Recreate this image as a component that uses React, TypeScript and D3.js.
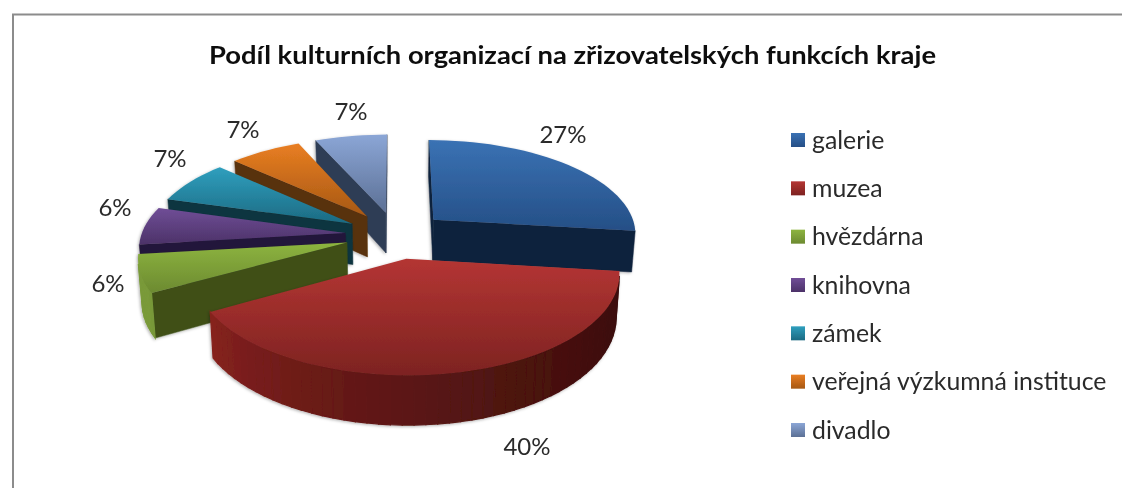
import React from "react";
import * as d3 from "d3";

const categories = ["galerie", "muzea", "hvězdárna", "knihovna", "zámek", "veřejná výzkumná instituce", "divadlo"];
const values = [26.9, 39.9, 6.3, 6.4, 7.3, 6.6, 6.6];
const pctLabels = ["27%", "40%", "6%", "6%", "7%", "7%", "7%"];
const titleText = "Podíl kulturních organizací na zřizovatelských funkcích kraje";

const topLight = ["#3a72b4", "#b43533", "#8db43f", "#704e97", "#2f9fbe", "#e97e22", "#8ba6d6"];
const topDark = ["#254f86", "#7d2321", "#6c8a31", "#4c3268", "#1c6a82", "#a65814", "#5c7095"];
const wallLeft = ["#12243f", "#8a2320", "#7a9a3a", "#2a1a42", "#123a46", "#5c310b", "#2a384f"];
const wallRight = ["#101f38", "#3a0e0c", "#3d4f1a", "#221436", "#103541", "#4d2a0a", "#354663"];
const radial = ["#11233d", "#7a1f1d", "#3f5019", "#24143a", "#10343f", "#59300b", "#2f3d55"];

const W = 1122, H = 488;
const cx = 396, cy = 235, R = 204, V = 94, P = 0.133, D = 41.6, EX = 0.25, SHRINK = 0.015;
const drawOrder = [6, 0, 5, 4, 3, 2, 1];
const labelX = [563, 527, 108, 115, 170, 243, 351];
const labelY = [133, 445, 282, 206, 157, 128, 110];

const project = (X: number, Y: number, z = 0): [number, number] => {
  const f = 1 / (1 - P * Y);
  return [cx + R * X * f * (1 - SHRINK * z), cy + V * Y * f + z * D * f];
};

const pie = d3.pie<number>().sort(null).value((d) => d)(values);
const line = d3.line<[number, number]>();

const area = (p: [number, number][]) => d3.polygonArea(p);

function Slice({ i }: { i: number }) {
  const { startAngle: a0, endAngle: a1 } = pie[i];
  const mid = (a0 + a1) / 2;
  const ox = EX * Math.sin(mid), oy = -EX * Math.cos(mid);
  const pt = (a: number, z = 0) => project(ox + Math.sin(a), oy - Math.cos(a), z);
  const apex = project(ox, oy);
  const apexB = project(ox, oy, 1);
  const n = Math.max(4, Math.ceil((a1 - a0) / 0.05));
  const angles = d3.range(n + 1).map((k) => a0 + ((a1 - a0) * k) / n);
  const shade = d3.interpolateRgb(wallRight[i], wallLeft[i]);
  const outer = angles.slice(0, -1).map((a, k) => {
    const b = angles[k + 1];
    const quad: [number, number][] = [pt(a), pt(b), pt(b, 1), pt(a, 1)];
    const t = Math.max(0, Math.min(1, (a - Math.PI / 2) / (Math.PI * 0.85)));
    return { quad, fill: shade(Math.pow(t, 1.6)), visible: area(quad) > 0 };
  });
  const wallStart: [number, number][] = [apex, pt(a0), pt(a0, 1), apexB];
  const wallEnd: [number, number][] = [pt(a1), apex, apexB, pt(a1, 1)];
  const top: [number, number][] = [apex, ...angles.map((a) => pt(a))];
  return (
    <g filter="url(#shadow)">
      {area(wallStart) > 0 && <path d={line(wallStart) + "Z"} fill={radial[i]} stroke={radial[i]} strokeWidth={0.5} />}
      {area(wallEnd) > 0 && <path d={line(wallEnd) + "Z"} fill={radial[i]} stroke={radial[i]} strokeWidth={0.5} />}
      {outer.filter((o) => o.visible).map((o, k) => (
        <path key={k} d={line(o.quad) + "Z"} fill={o.fill} stroke={o.fill} strokeWidth={1.2} />
      ))}
      <path d={line(top) + "Z"} fill={`url(#top${i})`} />
    </g>
  );
}

export default function App() {
  const legendY = d3.scalePoint<string>().domain(categories).range([140, 430]);
  const font = "Lato, 'Open Sans', sans-serif";
  return (
    <svg width={W} height={H} viewBox={`0 0 ${W} ${H}`} style={{ position: "absolute", left: 0, top: 0, background: "#fff" }}>
      <defs>
        <filter id="shadow" x="-10%" y="-10%" width="120%" height="120%">
          <feDropShadow dx="-1" dy="1" stdDeviation="1.5" floodColor="#000" floodOpacity="0.3" />
        </filter>
        <filter id="soft"><feGaussianBlur stdDeviation="0.4" /></filter>
        {categories.map((_, i) => (
          <linearGradient key={i} id={`top${i}`} x1="0" y1="0" x2="0" y2="1">
            <stop offset="0" stopColor={topLight[i]} />
            <stop offset="1" stopColor={topDark[i]} />
          </linearGradient>
        ))}
      </defs>
      <g filter="url(#soft)">
        <path d={`M13,${H}V14.5H${W}`} fill="none" stroke="#8c8c8c" strokeWidth={2} />
        <text x={572.5} y={64} textAnchor="middle" fontFamily={font} fontWeight={700} fontSize={24} fill="#111"
          textLength={727} lengthAdjust="spacingAndGlyphs">{titleText}</text>
        {drawOrder.map((i) => <Slice key={i} i={i} />)}
        {pie.map((d, i) => (
          <text key={i} x={labelX[i]} y={labelY[i]} textAnchor="middle" dominantBaseline="central" fontFamily={font}
            fontSize={24} fill="#2b2b2b">{pctLabels[i]}</text>
        ))}
        {categories.map((c, i) => {
          const y = legendY(c)!;
          return (
            <g key={c}>
              <rect x={791} y={y - 7} width={14} height={14} fill={`url(#top${i})`} />
              <text x={812} y={y - 1} dominantBaseline="central" fontFamily={font} fontSize={24.8} fill="#2b2b2b">{c}</text>
            </g>
          );
        })}
      </g>
    </svg>
  );
}
